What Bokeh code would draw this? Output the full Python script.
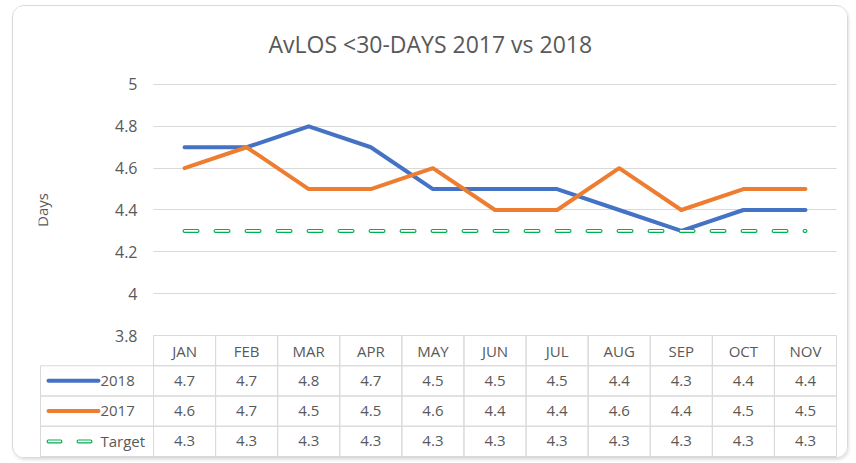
from bokeh.plotting import figure
from bokeh.models import (Range1d, FixedTicker, CustomJSTickFormatter,
                          ColumnDataSource, BoxAnnotation)
from bokeh.core.properties import value
from bokeh.embed import file_html
from bokeh.resources import INLINE

# ---- data ----
months = ["JAN", "FEB", "MAR", "APR", "MAY", "JUN", "JUL", "AUG", "SEP", "OCT", "NOV"]
y2018 = [4.7, 4.7, 4.8, 4.7, 4.5, 4.5, 4.5, 4.4, 4.3, 4.4, 4.4]
y2017 = [4.6, 4.7, 4.5, 4.5, 4.6, 4.4, 4.4, 4.6, 4.4, 4.5, 4.5]
target = [4.3, 4.3, 4.3, 4.3, 4.3, 4.3, 4.3, 4.3, 4.3, 4.3, 4.3]
series_names = ["2018", "2017", "Target"]
y_ticks = [3.8, 4.0, 4.2, 4.4, 4.6, 4.8, 5.0]
grid_ticks = [4.0, 4.2, 4.4, 4.6, 4.8, 5.0]

# ---- style ----
C2018 = "#4472C4"
C2017 = "#ED7D31"
CTGT = "#00B050"
GRID = "#D9D9D9"
TXT = "#595959"
FONT = "Open Sans"

x = list(range(len(months)))
LEG_LEFT = -2.32      # left edge of the legend column of the data table

p = figure(width=836, height=453,
           x_range=Range1d(-2.352, 10.564), y_range=Range1d(3.2120, 5.0669),
           x_axis_location=None, output_backend="svg", toolbar_location=None,
           min_border_left=25, min_border_right=9, min_border_top=64, min_border_bottom=1,
           title="AvLOS <30-DAYS 2017 vs 2018")
p.extra_y_ranges = {"tbl": Range1d(-0.0661, 12.760)}
p.outline_line_color = None
p.background_fill_color = "white"
p.border_fill_color = "white"
p.styles = {"border": "1px solid #D9D9D9", "border-radius": "12px",
            "box-shadow": "1px 2px 3px rgba(0,0,0,0.12)", "overflow": "hidden",
            "margin": "5px 0px 0px 12px"}

p.title.text_font = FONT
p.title.text_font_size = "23px"
p.title.text_font_style = "normal"
p.title.text_color = TXT
p.title.align = "left"
p.title.offset = 230
p.title.standoff = 21

# grid
p.xgrid.visible = False
yg = p.ygrid[0]
yg.ticker = FixedTicker(ticks=grid_ticks)
yg.grid_line_color = GRID
yg.grid_line_width = 1
if "cross_bounds" in yg.properties():
    yg.cross_bounds = (-0.5, 10.5)
else:
    p.add_layout(BoxAnnotation(left=-2.352, right=-0.5, bottom=3.9, top=5.0669,
                               fill_color="white", fill_alpha=1, line_color=None,
                               level="glyph"))

# y axis
ax = p.yaxis[0]
ax.fixed_location = -0.5
ax.ticker = FixedTicker(ticks=y_ticks)
ax.bounds = (3.8, 5.0)
ax.formatter = CustomJSTickFormatter(code="return (Math.round(tick*10)/10).toString();")
ax.axis_line_color = None
ax.major_tick_line_color = None
ax.minor_tick_line_color = None
ax.major_tick_out = 0
ax.major_tick_in = 0
ax.major_label_standoff = 16
ax.major_label_text_font = FONT
ax.major_label_text_font_size = "16px"
ax.major_label_text_color = TXT
ax.axis_label = "Days"
ax.axis_label_text_font = FONT
ax.axis_label_text_font_size = "15px"
ax.axis_label_text_font_style = "normal"
ax.axis_label_text_color = TXT
ax.axis_label_standoff = 60

# series lines
src = ColumnDataSource(dict(x=x, y2018=y2018, y2017=y2017, target=target))
p.line("x", "y2018", source=src, line_color=C2018, line_width=4,
       line_join="round", line_cap="round")
p.line("x", "y2017", source=src, line_color=C2017, line_width=4,
       line_join="round", line_cap="round")
p.line("x", "target", source=src, line_color=CTGT, line_width=4,
       line_dash="13 18", line_cap="round")
p.line("x", "target", source=src, line_color="white", line_width=1.6,
       line_dash="13 18", line_cap="round")

# ---- data table ----
TB = dict(y_range_name="tbl")
hdr = ColumnDataSource(dict(x=x, y=[3.5] * len(x), text=months))
p.rect("x", "y", width=1, height=1, source=hdr, fill_color=None,
       line_color=GRID, line_width=1, **TB)
p.text("x", "y", text="text", source=hdr, text_align="center", text_baseline="middle",
       text_font=value(FONT), text_font_size="15px", text_color=TXT, **TB)

row_y = [2.5, 1.5, 0.5]
cx, cy, ct = [], [], []
for ry, vals in zip(row_y, [y2018, y2017, target]):
    for xi, v in zip(x, vals):
        cx.append(xi)
        cy.append(ry)
        ct.append("%.1f" % v)
cells = ColumnDataSource(dict(x=cx, y=cy, text=ct))
p.rect("x", "y", width=1, height=1, source=cells, fill_color=None,
       line_color=GRID, line_width=1, **TB)
p.text("x", "y", text="text", source=cells, text_align="center", text_baseline="middle",
       text_font=value(FONT), text_font_size="15px", text_color=TXT, **TB)

# legend column
p.quad(left=LEG_LEFT, right=-0.5, bottom=[r - 0.5 for r in row_y],
       top=[r + 0.5 for r in row_y], fill_color=None, line_color=GRID, line_width=1, **TB)
p.segment(x0=-2.191, x1=-1.386, y0=row_y[0], y1=row_y[0], line_color=C2018,
          line_width=4, line_cap="round", **TB)
p.segment(x0=-2.191, x1=-1.386, y0=row_y[1], y1=row_y[1], line_color=C2017,
          line_width=4, line_cap="round", **TB)
p.segment(x0=-2.191, x1=-1.4986, y0=row_y[2], y1=row_y[2], line_color=CTGT,
          line_width=4, line_cap="round", line_dash="12 18", **TB)
p.segment(x0=-2.191, x1=-1.4986, y0=row_y[2], y1=row_y[2], line_color="white",
          line_width=1.6, line_cap="round", line_dash="12 18", **TB)
p.text(x=[-1.354] * 3, y=row_y, text=series_names, text_align="left",
       text_baseline="middle", text_font=value(FONT), text_font_size="15px",
       text_color=TXT, **TB)

open("out.html", "w").write(file_html(p, INLINE))
